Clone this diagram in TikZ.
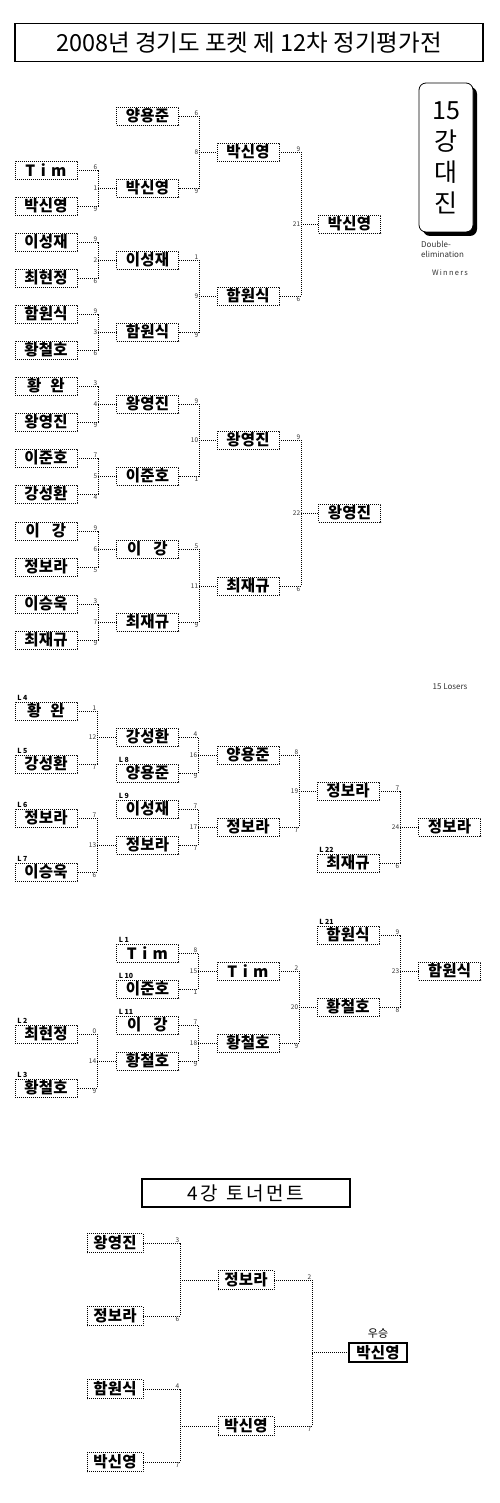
\documentclass[tikz,border=0pt]{standalone}
\usepackage{fontspec}
\setmainfont{Noto Sans CJK KR}
\newfontfamily\namefam{Noto Sans CJK KR}[LetterSpace=2]
\newfontfamily\widefam{Noto Sans CJK KR}[LetterSpace=35]
\newfontfamily\headfam{Noto Sans CJK KR}[LetterSpace=14]
\usetikzlibrary{shadows,positioning}

\tikzset{
  link/.style={line width=0.8pt, dash pattern=on 0.8pt off 1.2pt},
  player/.style={draw, link, minimum width=62pt, minimum height=18pt, inner sep=0pt,
    font=\namefam\bfseries\fontsize{15.5}{15.5}\selectfont},
  small player/.style={player, minimum width=56pt, minimum height=19pt},
  score/.style={font=\fontsize{6.5}{7}\selectfont, text=black!80, inner sep=0.6pt},
  seed/.style={font=\bfseries\fontsize{7}{7}\selectfont, inner sep=0.5pt, anchor=south west},
  note/.style={font=\fontsize{8}{10}\selectfont, text=black!80, inner sep=0pt},
  headbox/.style={draw, line width=1.6pt, inner sep=0pt},
}

% two players, junction x, winner, scores
\newcommand{\pair}[6]{%
  \coordinate (jx) at (#3,0);
  \coordinate (jm) at (#4.west -| jx);
  \draw[link] (#1.east) -| (jm) |- (#2.east);
  \draw[link] (jm) -- (#4.west);
  \node[score, anchor=south east] at (#1.east -| jx) {#5};
  \node[score, anchor=north east] at (#2.east -| jx) {#6};
}
% same, with the match number
\newcommand{\match}[7]{\pair{#1}{#2}{#3}{#4}{#6}{#7}\node[score, anchor=east] at (jm) {#5};}

\begin{document}
\begin{tikzpicture}[x=1pt,y=-1pt]
\useasboundingbox (0,0) rectangle (500,1503);

% title
\node[headbox, minimum width=468pt, minimum height=38pt,
  font=\fontsize{23.5}{23.5}\selectfont] (title) at (249,42.5) {2008년 경기도 포켓 제 12차 정기평가전};

% 15 gang box
\node[draw, fill=white, line width=0.8pt, rounded corners=7pt, minimum width=54pt, minimum height=149pt,
  drop shadow={shadow xshift=4pt, shadow yshift=-4pt, fill=black, opacity=1},
  align=center, font=\fontsize{25}{31}\selectfont] (gang) at (446,157.5) {15\\강\\대\\진};
\node[note, anchor=north west, align=left] (dbl) at (421,241) {Double-\\elimination};
\node[note, font=\fontsize{7.5}{9}\selectfont] (win) at (450,273) {W\,i\,n\,n\,e\,r\,s};

% winners, round 1
\node[player] (wA1) at (46,170) {{\widefam Tim}};
\node[player] (wA2) at (46,206) {박신영};
\node[player] (wA3) at (46,242) {이성재};
\node[player] (wA4) at (46,278) {최현정};
\node[player] (wA5) at (46,314) {함원식};
\node[player] (wA6) at (46,350) {황철호};
\node[player] (wA7) at (46,386) {황\hspace{9pt}완};
\node[player] (wA8) at (46,422) {왕영진};
\node[player] (wA9) at (46,458) {이준호};
\node[player] (wA10) at (46,494) {강성환};
\node[player] (wA11) at (46,531) {이\hspace{12pt}강};
\node[player] (wA12) at (46,567) {정보라};
\node[player] (wA13) at (46,604) {이승욱};
\node[player] (wA14) at (46,640) {최재규};
% winners, round 2
\node[player] (wB1) at (147.5,116) {양용준};
\node[player] (wB2) at (147.5,188) {박신영};
\node[player] (wB3) at (147.5,260) {이성재};
\node[player] (wB4) at (147.5,332) {함원식};
\node[player] (wB5) at (147.5,404) {왕영진};
\node[player] (wB6) at (147.5,476) {이준호};
\node[player] (wB7) at (147.5,549) {이\hspace{12pt}강};
\node[player] (wB8) at (147.5,622) {최재규};
% winners, round 3 and 4
\node[player] (wC1) at (248,152) {박신영};
\node[player] (wC2) at (248,296) {함원식};
\node[player] (wC3) at (248,440) {왕영진};
\node[player] (wC4) at (248,586) {최재규};
\node[player] (wD1) at (349.5,224) {박신영};
\node[player] (wD2) at (349.5,513) {왕영진};

\match{wA1}{wA2}{98}{wB2}{1}{6}{9}
\match{wA3}{wA4}{98}{wB3}{2}{9}{6}
\match{wA5}{wA6}{98}{wB4}{3}{9}{6}
\match{wA7}{wA8}{98}{wB5}{4}{3}{9}
\match{wA9}{wA10}{98}{wB6}{5}{7}{4}
\match{wA11}{wA12}{98}{wB7}{6}{9}{5}
\match{wA13}{wA14}{98}{wB8}{7}{3}{9}
\match{wB1}{wB2}{199}{wC1}{8}{6}{9}
\match{wB3}{wB4}{199}{wC2}{9}{1}{9}
\match{wB5}{wB6}{199}{wC3}{10}{9}{1}
\match{wB7}{wB8}{199}{wC4}{11}{5}{9}
\match{wC1}{wC2}{301}{wD1}{21}{9}{6}
\match{wC3}{wC4}{301}{wD2}{22}{9}{6}

% losers
\node[note] (los) at (450,687) {15 Losers};
\node[player] (lA1) at (46,711) {황\hspace{9pt}완};
\node[player] (lA2) at (46,764) {강성환};
\node[player] (lA3) at (46,818) {정보라};
\node[player] (lA4) at (46,872) {이승욱};
\node[player] (lA5) at (46,1034) {최현정};
\node[player] (lA6) at (46,1088) {황철호};
\node[player] (lB1) at (147.5,737) {강성환};
\node[player] (lB2) at (147.5,773) {양용준};
\node[player] (lB3) at (147.5,809) {이성재};
\node[player] (lB4) at (147.5,845) {정보라};
\node[player] (lB5) at (147.5,953) {{\widefam Tim}};
\node[player] (lB6) at (147.5,989) {이준호};
\node[player] (lB7) at (147.5,1025) {이\hspace{12pt}강};
\node[player] (lB8) at (147.5,1061) {황철호};
\node[player] (lC1) at (248,755) {양용준};
\node[player] (lC2) at (248,827) {정보라};
\node[player] (lC3) at (248,971) {{\widefam Tim}};
\node[player] (lC4) at (248,1043) {황철호};
\node[player] (lD1) at (348,791) {정보라};
\node[player] (lD2) at (348,863) {최재규};
\node[player] (lD3) at (348,935) {함원식};
\node[player] (lD4) at (348,1007) {황철호};
\node[player] (lE1) at (449.5,827) {정보라};
\node[player] (lE2) at (449.5,971) {함원식};

% where the losers came from
\foreach \who/\txt in {lA1/L 4, lA2/L 5, lA3/L 6, lA4/L 7, lA5/L 2, lA6/L 3,
    lB2/L 8, lB3/L 9, lB5/L 1, lB6/L 10, lB7/L 11, lD2/L 22, lD3/L 21}
  \node[seed] at ([xshift=2pt]\who.north west) {\txt};

\match{lA1}{lA2}{97}{lB1}{12}{1}{7}
\match{lA3}{lA4}{97}{lB4}{13}{7}{6}
\match{lA5}{lA6}{97}{lB8}{14}{0}{9}
\match{lB5}{lB6}{198}{lC3}{15}{8}{1}
\match{lB1}{lB2}{198}{lC1}{16}{4}{9}
\match{lB3}{lB4}{198}{lC2}{17}{7}{7}
\match{lB7}{lB8}{198}{lC4}{18}{7}{9}
\match{lC1}{lC2}{299}{lD1}{19}{8}{7}
\match{lC3}{lC4}{299}{lD4}{20}{2}{9}
\match{lD3}{lD4}{400}{lE2}{23}{9}{8}
\match{lD1}{lD2}{400}{lE1}{24}{7}{6}

% final four
\node[headbox, minimum width=208pt, minimum height=28pt,
  font=\headfam\fontsize{19}{19}\selectfont] (four) at (246,1193) {4강\hspace{8pt}토너먼트};
\node[small player] (fA1) at (115,1243) {왕영진};
\node[small player] (fA2) at (115,1316) {정보라};
\node[small player] (fA3) at (115,1389) {함원식};
\node[small player] (fA4) at (115,1462) {박신영};
\node[small player] (fB1) at (246,1280) {정보라};
\node[small player] (fB2) at (246,1426) {박신영};
\node[headbox, minimum width=58pt, minimum height=19pt,
  font=\namefam\bfseries\fontsize{15.5}{15.5}\selectfont] (champ) at (378,1352.5) {박신영};
\node[font=\fontsize{11}{11}\selectfont, above=4pt of champ.north, inner sep=0pt] (cup) {우승};

\pair{fA1}{fA2}{180}{fB1}{3}{6}
\pair{fA3}{fA4}{180}{fB2}{4}{7}
\pair{fB1}{fB2}{312}{champ}{2}{7}
\end{tikzpicture}
\end{document}
